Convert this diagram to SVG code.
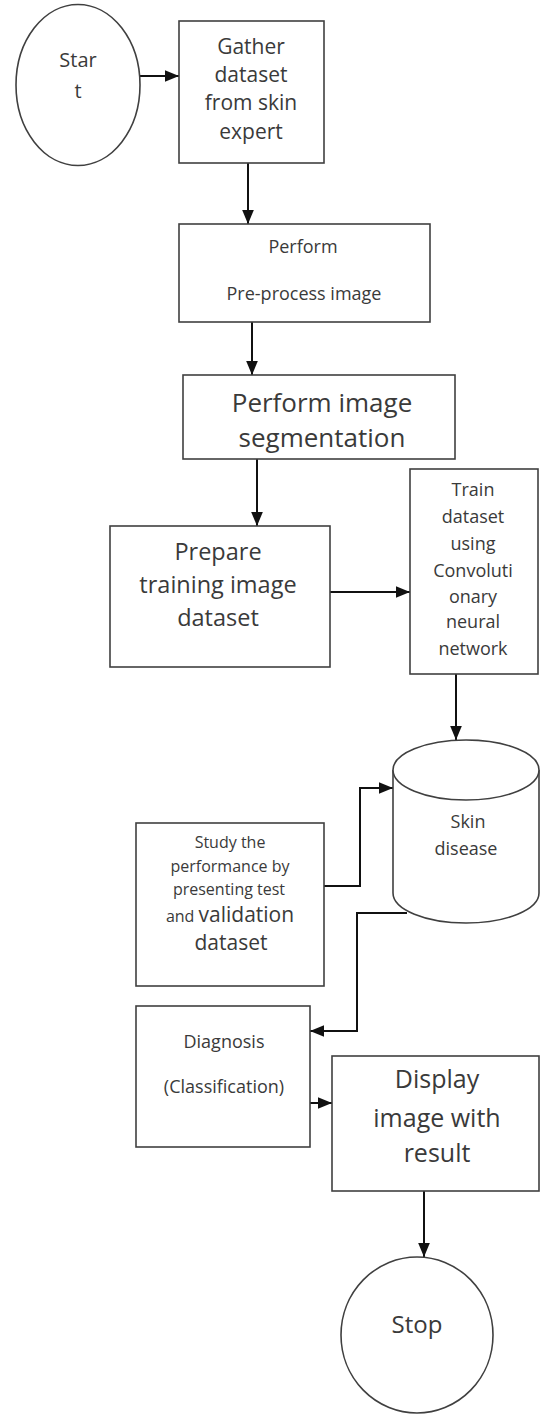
<svg xmlns="http://www.w3.org/2000/svg" width="542" height="1414" viewBox="0 0 542 1414">
<defs>
<style>
.n{fill:#fff;stroke:#404040;stroke-width:1.6}
.c{fill:none;stroke:#111;stroke-width:2}
text{font-family:"Open Sans","Liberation Sans",sans-serif;fill:#3a3a3a;text-anchor:middle}
</style>
<marker id="ah" viewBox="0 0 12 10" refX="12" refY="5" markerWidth="7" markerHeight="6" orient="auto" markerUnits="strokeWidth">
<path d="M0,0 L12,5 L0,10 z" fill="#111"/>
</marker>
</defs>
<g id="connectors">
<line class="c" x1="140" y1="76" x2="179" y2="76" marker-end="url(#ah)"/>
<line class="c" x1="248" y1="163" x2="248" y2="224" marker-end="url(#ah)"/>
<line class="c" x1="252" y1="322" x2="252" y2="375" marker-end="url(#ah)"/>
<line class="c" x1="257" y1="459" x2="257" y2="526" marker-end="url(#ah)"/>
<line class="c" x1="330" y1="592" x2="410" y2="592" marker-end="url(#ah)"/>
<line class="c" x1="456" y1="674" x2="456" y2="740" marker-end="url(#ah)"/>
<polyline class="c" points="324,886 360,886 360,788 393,788" marker-end="url(#ah)"/>
<polyline class="c" points="407,913 357,913 357,1031 310,1031" marker-end="url(#ah)"/>
<line class="c" x1="310" y1="1103" x2="332" y2="1103" marker-end="url(#ah)"/>
<line class="c" x1="424" y1="1191" x2="424" y2="1257" marker-end="url(#ah)"/>
</g>
<g id="start">
<ellipse class="n" cx="78" cy="85" rx="62" ry="80.5"/>
<text x="78" y="67" font-size="20">Star</text>
<text x="78" y="98" font-size="20">t</text>
</g>
<g id="gather">
<rect class="n" x="179" y="21" width="145" height="142"/>
<text font-size="21"><tspan x="251" y="54">Gather</tspan><tspan x="251" y="82">dataset</tspan><tspan x="251" y="110">from skin</tspan><tspan x="251" y="139">expert</tspan></text>
</g>
<g id="preprocess">
<rect class="n" x="179" y="224" width="251" height="98"/>
<text font-size="18"><tspan x="303" y="253">Perform</tspan><tspan x="304" y="300">Pre-process image</tspan></text>
</g>
<g id="segmentation">
<rect class="n" x="183" y="375" width="272" height="84"/>
<text font-size="26"><tspan x="322" y="412">Perform image</tspan><tspan x="322" y="447">segmentation</tspan></text>
</g>
<g id="prepare">
<rect class="n" x="110" y="526" width="220" height="141"/>
<text font-size="23.5"><tspan x="218" y="560">Prepare</tspan><tspan x="218" y="593">training image</tspan><tspan x="218" y="626">dataset</tspan></text>
</g>
<g id="train">
<rect class="n" x="410" y="469" width="128" height="205"/>
<text font-size="18"><tspan x="473" y="496">Train</tspan><tspan x="473" y="523">dataset</tspan><tspan x="473" y="550">using</tspan><tspan x="473" y="577">Convoluti</tspan><tspan x="473" y="603">onary</tspan><tspan x="473" y="628">neural</tspan><tspan x="473" y="655">network</tspan></text>
</g>
<g id="skin-disease">
<path class="n" d="M393,770 L393,893 A73,30 0 0 0 539,893 L539,770"/>
<ellipse class="n" cx="466" cy="770" rx="73" ry="30"/>
<text font-size="18"><tspan x="468" y="828">Skin</tspan><tspan x="466" y="855">disease</tspan></text>
</g>
<g id="study">
<rect class="n" x="136" y="823" width="188" height="163"/>
<text font-size="16"><tspan x="230" y="848">Study the</tspan><tspan x="230" y="872">performance by</tspan><tspan x="229" y="895">presenting test</tspan><tspan x="230" y="922">and <tspan font-size="21">validation</tspan></tspan><tspan x="231" y="950" font-size="21">dataset</tspan></text>
</g>
<g id="diagnosis">
<rect class="n" x="136" y="1006" width="174" height="141"/>
<text font-size="18"><tspan x="224" y="1048">Diagnosis</tspan><tspan x="224" y="1093">(Classification)</tspan></text>
</g>
<g id="display">
<rect class="n" x="332" y="1056" width="207" height="135"/>
<text font-size="25"><tspan x="437" y="1088">Display</tspan><tspan x="437" y="1127">image with</tspan><tspan x="437" y="1162">result</tspan></text>
</g>
<g id="stop">
<ellipse class="n" cx="417" cy="1335" rx="76" ry="78"/>
<text x="417" y="1333" font-size="24">Stop</text>
</g>
</svg>
